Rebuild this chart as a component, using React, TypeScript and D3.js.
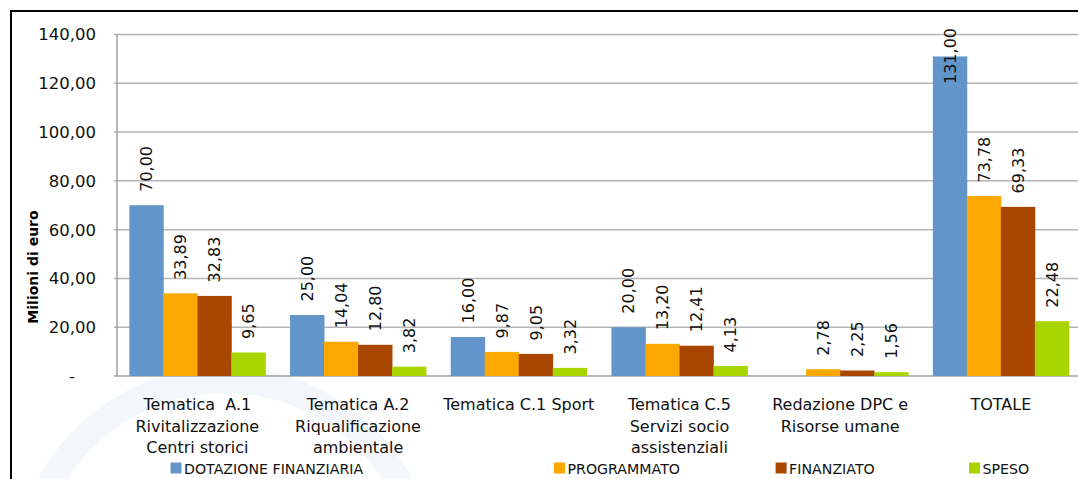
import React from "react";
import * as d3 from "d3";

// category labels, one entry per line
const categories = [
  ["Tematica  A.1", "Rivitalizzazione", "Centri storici"],
  ["Tematica A.2", "Riqualificazione", "ambientale"],
  ["Tematica C.1 Sport"],
  ["Tematica C.5", "Servizi socio", "assistenziali"],
  ["Redazione DPC e", "Risorse umane"],
  ["TOTALE"],
];

const seriesNames = ["DOTAZIONE FINANZIARIA", "PROGRAMMATO", "FINANZIATO", "SPESO"];
const seriesColors = ["#6295c9", "#fda800", "#a94700", "#a8d400"];

const dotazione = [70.0, 25.0, 16.0, 20.0, null, 131.0];
const programmato = [33.89, 14.04, 9.87, 13.2, 2.78, 73.78];
const finanziato = [32.83, 12.8, 9.05, 12.41, 2.25, 69.33];
const speso = [9.65, 3.82, 3.32, 4.13, 1.56, 22.48];

const yTicks = [0, 20, 40, 60, 80, 100, 120, 140];

const W = 1078;
const H = 479;
const FONT = "'DejaVu Sans', Verdana, sans-serif";

const fmt = (v: number) => d3.format(".2f")(v).replace(".", ",");

const App = () => {
  const series = [dotazione, programmato, finanziato, speso];
  const keys = categories.map((c) => c.join(" "));

  const margin = { left: 117, top: 34.5, bottom: 376 };
  const x0 = d3.scaleBand().domain(keys).range([margin.left, margin.left + 6 * 160.7]).padding(0);
  const x1 = d3
    .scaleBand()
    .domain(seriesNames)
    .range([0, x0.bandwidth()])
    .paddingInner(0)
    .paddingOuter(0.363);
  const y = d3.scaleLinear().domain([0, 140]).range([margin.bottom, margin.top]);

  const labelSize = 16;
  const labelLen = (s: string) => (s.replace(",", "").length * 0.636 + 0.318) * labelSize;

  const legendX = [170.5, 554, 775.6, 969];

  return (
    <svg
      width={W}
      height={H}
      style={{ position: "absolute", left: 0, top: 0, display: "block", background: "#fff" }}
      fontFamily={FONT}
    >
      <rect width={W} height={H} fill="#fff" />

      {/* faint watermark arc */}
      <circle cx={225} cy={580} r={200} fill="none" stroke="#c9d9ec" strokeWidth={26} opacity={0.22} />

      {/* frame */}
      <line x1={10} x2={W} y1={11} y2={11} stroke="#000" strokeWidth={2} />
      <line x1={11} x2={11} y1={10} y2={H} stroke="#000" strokeWidth={2} />

      {/* gridlines */}
      {yTicks.map((t) => (
        <line
          key={t}
          x1={margin.left - 3}
          x2={W}
          y1={y(t)}
          y2={y(t)}
          stroke={t === 0 ? "#a0a0a0" : "#b5b5b5"}
          strokeWidth={1.5}
        />
      ))}
      <line x1={margin.left} x2={margin.left} y1={y(140)} y2={y(0)} stroke="#a0a0a0" strokeWidth={1.5} />

      {/* y tick labels */}
      {yTicks.map((t) => (
        <text
          key={t}
          x={t === 0 ? 72 : 96}
          y={y(t)}
          dy="0.36em"
          textAnchor={t === 0 ? "middle" : "end"}
          fontSize={16.5}
          fill="#111"
        >
          {t === 0 ? "-" : fmt(t)}
        </text>
      ))}

      {/* y title */}
      <text
        transform={`translate(33,267) rotate(-90)`}
        textAnchor="middle"
        dy="0.36em"
        fontSize={14}
        fontWeight="bold"
        fill="#000"
      >
        Milioni di euro
      </text>

      {/* bars */}
      {series.map((vals, si) =>
        vals.map((v, ci) =>
          v == null ? null : (
            <rect
              key={`${si}-${ci}`}
              x={(x0(keys[ci]) as number) + (x1(seriesNames[si]) as number)}
              y={y(v)}
              width={x1.bandwidth() + 0.4}
              height={y(0) - y(v)}
              fill={seriesColors[si]}
            />
          )
        )
      )}

      {/* value labels */}
      {series.map((vals, si) =>
        vals.map((v, ci) => {
          if (v == null) return null;
          const s = fmt(v);
          const cx = (x0(keys[ci]) as number) + (x1(seriesNames[si]) as number) + x1.bandwidth() / 2;
          const bottom = y(v) - 13.5;
          const clamped = bottom - labelLen(s) < 28;
          return (
            <text
              key={`l-${si}-${ci}`}
              transform={`translate(${cx},${clamped ? 28 : bottom}) rotate(-90)`}
              textAnchor={clamped ? "end" : "start"}
              dy="0.36em"
              fontSize={labelSize}
              fill="#111"
            >
              {s}
            </text>
          );
        })
      )}

      {/* category labels */}
      {categories.map((lines, ci) => (
        <text
          key={ci}
          x={(x0(keys[ci]) as number) + x0.bandwidth() / 2}
          y={410}
          textAnchor="middle"
          fontSize={16}
          fill="#111"
          style={{ whiteSpace: "pre" }}
        >
          {lines.map((ln, li) => (
            <tspan key={li} x={(x0(keys[ci]) as number) + x0.bandwidth() / 2} y={410 + li * 21.7}>
              {ln}
            </tspan>
          ))}
        </text>
      ))}

      {/* legend */}
      {seriesNames.map((n, i) => (
        <g key={n} transform={`translate(${legendX[i]},462.5)`}>
          <rect width={11} height={11} fill={seriesColors[i]} />
          <text x={13.5} y={11} fontSize={14.2} fill="#111">
            {n}
          </text>
        </g>
      ))}
    </svg>
  );
};

export default App;
